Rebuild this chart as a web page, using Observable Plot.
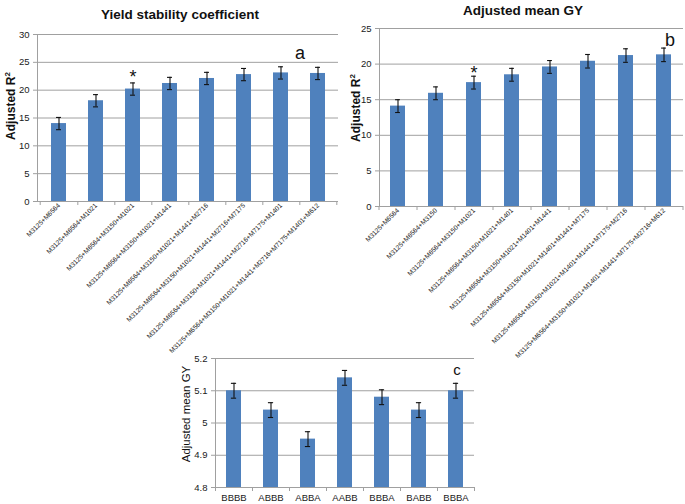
<!DOCTYPE html>
<html><head><meta charset="utf-8">
<script src="https://cdn.jsdelivr.net/npm/d3@7"></script>
<script src="https://cdn.jsdelivr.net/npm/@observablehq/plot@0.6"></script>
<style>
body{margin:0;background:#fff;font-family:"Liberation Sans",Arial,sans-serif;}
#root{position:relative;width:685px;height:504px;overflow:hidden;background:#fff;}
.panel{position:absolute;}
.title{position:absolute;font-weight:bold;font-size:13.5px;color:#111;white-space:nowrap;transform:translate(-50%,-50%);}
.ylab{position:absolute;white-space:nowrap;transform:translate(-50%,-50%) rotate(-90deg);color:#111;}
.letter{position:absolute;transform:translate(-50%,-50%);color:#111;}
</style></head><body><div id="root"></div>
<script>
// ---- Panel a: Yield stability coefficient ----
const catsA = [
  "M3125+M6564",
  "M3125+M6564+M1021",
  "M3125+M6564+M3150+M1021",
  "M3125+M6564+M3150+M1021+M1441",
  "M3125+M6564+M3150+M1021+M1441+M2716",
  "M3125+M6564+M3150+M1021+M1441+M2716+M7175",
  "M3125+M6564+M3150+M1021+M1441+M2716+M7175+M1401",
  "M3125+M6564+M3150+M1021+M1441+M2716+M7175+M1401+M612"
];
const valsA = [14.0, 18.1, 20.2, 21.2, 22.1, 22.8, 23.1, 23.0];
const errsA = [1.1, 1.1, 1.1, 1.1, 1.1, 1.1, 1.1, 1.1];
const ticksA = [0, 5, 10, 15, 20, 25, 30];
const starsA = [2];

// ---- Panel b: Adjusted mean GY ----
const catsB = [
  "M3125+M6564",
  "M3125+M6564+M3150",
  "M3125+M6564+M3150+M1021",
  "M3125+M6564+M3150+M1021+M1401",
  "M3125+M6564+M3150+M1021+M1401+M1441",
  "M3125+M6564+M3150+M1021+M1401+M1441+M7175",
  "M3125+M6564+M3150+M1021+M1401+M1441+M7175+M2716",
  "M3125+M6564+M3150+M1021+M1401+M1441+M7175+M2716+M612"
];
const valsB = [14.1, 15.9, 17.4, 18.5, 19.6, 20.4, 21.2, 21.3];
const errsB = [0.9, 0.9, 0.9, 0.9, 0.9, 0.95, 0.95, 0.95];
const ticksB = [0, 5, 10, 15, 20, 25];
const starsB = [2];

// ---- Panel c ----
const catsC = ["BBBB", "ABBB", "ABBA", "AABB", "BBBA", "BABB", "BBBA "];
const valsC = [5.10, 5.04, 4.95, 5.14, 5.08, 5.04, 5.10];
const errsC = [0.023, 0.023, 0.023, 0.023, 0.023, 0.023, 0.023];
const ticksC = [4.8, 4.9, 5.0, 5.1, 5.2];

const GRID = "#a0a0a0";
const BAR = "#4f81bd";
const FONT = "'Liberation Sans', Arial, sans-serif";

function panel(o) {
  const data = o.cats.map((c, i) => ({c, v: o.vals[i], e: o.errs[i]}));
  const step = (o.width - o.ml - o.mr) / o.cats.length;
  const bw = step * 0.4;
  const cap = (bw - 5) / 2;
  const y0 = o.domain[0];
  const tl = (o.domain[1] - o.domain[0]) * 4 / (o.height - o.mt - o.mb);
  return Plot.plot({
    width: o.width, height: o.height,
    marginLeft: o.ml, marginRight: o.mr, marginTop: o.mt, marginBottom: o.mb,
    style: {fontFamily: FONT, background: "none", overflow: "visible", maxWidth: "none"},
    x: {domain: o.cats, paddingInner: 0.6, paddingOuter: 0.3, label: null},
    y: {domain: o.domain, label: null},
    marks: [
      Plot.gridY(o.ticks, {stroke: GRID, strokeOpacity: 1}),
      Plot.frame({anchor: "left", stroke: GRID}),
      Plot.ruleY([y0], {stroke: GRID}),
      Plot.ruleX(o.cats, {x: d => d, y1: y0, y2: y0 - tl, dx: step / 2, stroke: GRID}),
      Plot.ruleX([o.cats[0]], {x: d => d, y1: y0, y2: y0 - tl, dx: -step / 2, stroke: GRID}),
      Plot.axisY(o.ticks, {tickSize: 4, tickPadding: 4, stroke: GRID, fill: "#1a1a1a", fontSize: o.yFont, tickFormat: o.yFormat, label: null}),
      Plot.axisX({tickSize: 0, tickPadding: o.xPad, tickRotate: o.rotate, fontSize: o.xFont, fill: "#1a1a1a", label: null, tickFormat: o.xFormat}),
      Plot.barY(data, {x: "c", y1: () => y0, y2: "v", fill: BAR}),
      Plot.ruleX(data, {x: "c", y1: d => d.v - d.e, y2: d => d.v + d.e, stroke: "#111", strokeWidth: 1.1}),
      Plot.tickY(data, {x: "c", y: d => d.v + d.e, insetLeft: cap, insetRight: cap, stroke: "#111", strokeWidth: 1.1}),
      Plot.tickY(data, {x: "c", y: d => d.v - d.e, insetLeft: cap, insetRight: cap, stroke: "#111", strokeWidth: 1.1}),
      Plot.text(o.stars || [], {x: i => o.cats[i], y: i => o.vals[i] + o.errs[i], text: () => "*", dy: o.starDy, lineAnchor: "bottom", fontSize: 18, fill: "#111"})
    ]
  });
}

const root = document.getElementById("root");
function place(node, left, top, w, h) {
  const d = document.createElement("div");
  d.className = "panel";
  d.style.left = left + "px"; d.style.top = top + "px";
  d.style.width = w + "px"; d.style.height = h + "px";
  d.appendChild(node);
  root.appendChild(d);
}
function html(cls, text, x, y, css) {
  const d = document.createElement("div");
  d.className = cls;
  d.innerHTML = text;
  d.style.left = x + "px"; d.style.top = y + "px";
  Object.assign(d.style, css || {});
  root.appendChild(d);
}

place(panel({cats: catsC, vals: valsC, errs: errsC, domain: [4.8, 5.2], ticks: ticksC,
  width: 306, height: 164, ml: 45, mr: 2, mt: 18, mb: 17, rotate: 0, xFont: 9.5, yFont: 9.5, xPad: 7,
  yFormat: d => d3.format("~g")(d), xFormat: d => d.trim()}), 170, 340, 306, 164);
place(panel({cats: catsA, vals: valsA, errs: errsA, domain: [0, 30], ticks: ticksA,
  width: 342, height: 345, ml: 37, mr: 4, mt: 34, mb: 144, rotate: -45, xFont: 6.6, yFont: 9.5, xPad: 3,
  stars: starsA, starDy: 0}), 0, 0, 342, 345);
place(panel({cats: catsB, vals: valsB, errs: errsB, domain: [0, 25], ticks: ticksB,
  width: 343, height: 345, ml: 37, mr: 2, mt: 28, mb: 139, rotate: -45, xFont: 6.6, yFont: 9.5, xPad: 3,
  stars: starsB, starDy: 3}), 342, 0, 343, 345);

html("title", "Yield stability coefficient", 180, 14);
html("title", "Adjusted mean GY", 523, 10);
html("ylab", "Adjusted R<sup style='font-size:8px'>2</sup>", 10, 106, {fontWeight: "bold", fontSize: "12px"});
html("ylab", "Adjusted R<sup style='font-size:8px'>2</sup>", 355, 108, {fontWeight: "bold", fontSize: "12px"});
html("ylab", "Adjusted mean GY", 186, 414, {fontSize: "11.5px"});
html("letter", "a", 300, 53, {fontSize: "18px"});
html("letter", "b", 670, 40, {fontSize: "18px"});
html("letter", "c", 457, 369, {fontSize: "15px"});
</script>
</body></html>
